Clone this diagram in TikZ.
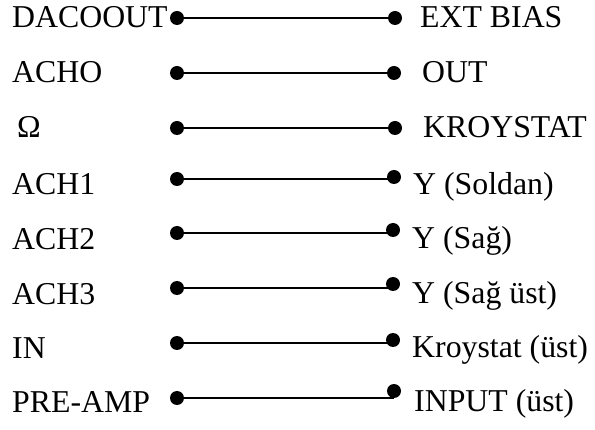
\documentclass[tikz,border=0pt]{standalone}
\usepackage{fontspec}
\setmainfont{Liberation Serif}
\begin{document}
\begin{tikzpicture}[x=1pt,y=-1pt,
  lbl/.style={anchor=base west,inner sep=0pt,font=\fontsize{31.8}{38}\selectfont},
  dot/.style={circle,fill=black,inner sep=0pt,minimum size=14pt},
  wire/.style={line width=2pt}]
\useasboundingbox (0,0) rectangle (595,430);
% left labels
\node[lbl] (t1) at (12,28) {DACOOUT};
\node[lbl] (t2) at (12,83) {ACHO};
\node[lbl] (t3) at (17,138) {Ω};
\node[lbl] (t4) at (12,195) {ACH1};
\node[lbl] (t5) at (12,250) {ACH2};
\node[lbl] (t6) at (12,305) {ACH3};
\node[lbl] (t7) at (12,359) {IN};
\node[lbl] (t8) at (12,413) {PRE-AMP};
% right labels
\node[lbl] (u1) at (420,28) {EXT BIAS};
\node[lbl] (u2) at (422,83) {OUT};
\node[lbl] (u3) at (423,138) {KROYSTAT};
\node[lbl] (u4) at (413,195) {Y (Soldan)};
\node[lbl] (u5) at (412,249) {Y (Sağ)};
\node[lbl] (u6) at (412,304) {Y (Sağ üst)};
\node[lbl] (u7) at (412,358) {Kroystat (üst)};
\node[lbl] (u8) at (414,412) {INPUT (üst)};
% left dots
\node[dot] (l1) at (177,18) {};
\node[dot] (l2) at (177,73) {};
\node[dot] (l3) at (177,128) {};
\node[dot] (l4) at (177,179) {};
\node[dot] (l5) at (177,233) {};
\node[dot] (l6) at (177,288) {};
\node[dot] (l7) at (177,343) {};
\node[dot] (l8) at (177,398) {};
% right dots
\node[dot] (r1) at (395,18) {};
\node[dot] (r2) at (394,73) {};
\node[dot] (r3) at (395,128) {};
\node[dot] (r4) at (394,177) {};
\node[dot] (r5) at (393,230) {};
\node[dot] (r6) at (393,284) {};
\node[dot] (r7) at (393,340) {};
\node[dot] (r8) at (394,391) {};
% wires
\foreach \i in {1,...,8}{
  \draw[wire] (l\i.center) -- (l\i.center -| r\i.center);
}
\end{tikzpicture}
\end{document}
